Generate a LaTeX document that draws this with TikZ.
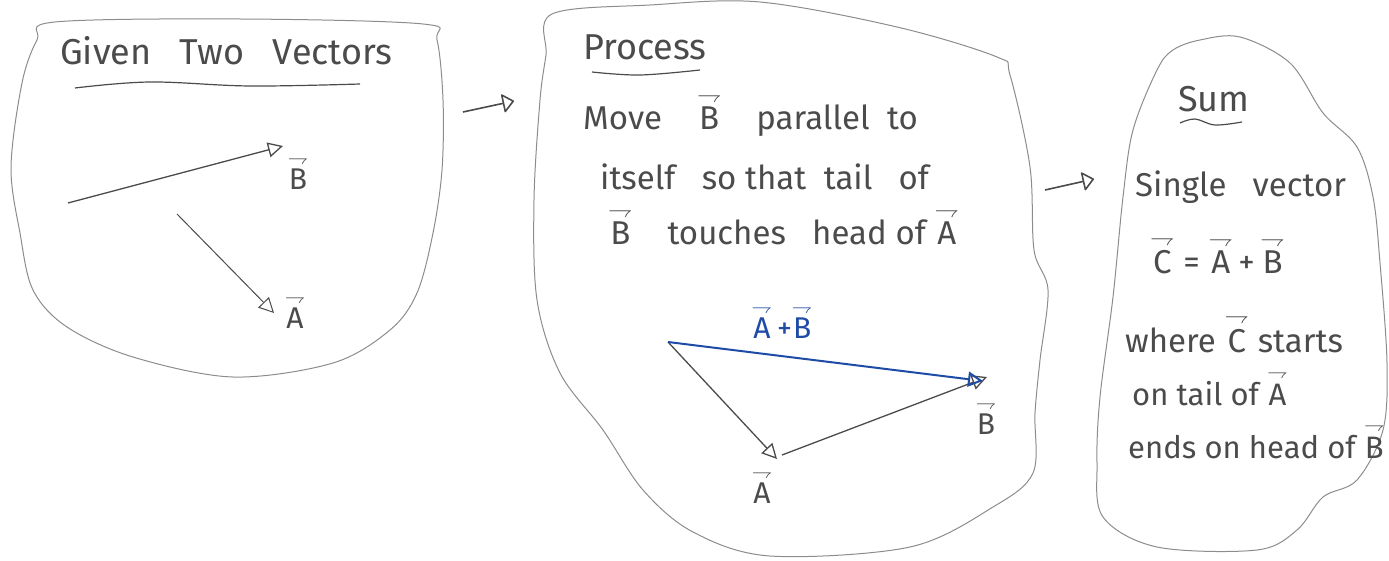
\documentclass[tikz,border=0pt]{standalone}
\usepackage{fontspec}
\usepackage{amsmath}
\setmainfont{Fira Sans}
\usetikzlibrary{arrows.meta}
\newcommand{\vv}[1]{\ensuremath{\overset{\scriptstyle\rightharpoondown}{\text{#1}}}}
\definecolor{ink}{RGB}{75,75,75}
\definecolor{blueink}{RGB}{30,75,165}
\tikzset{
  blob/.style={draw=black!45, line width=1pt},
  hand/.style={text=ink, inner sep=0pt, font=\fontsize{33}{38}\selectfont},
  handsm/.style={text=ink, inner sep=0pt, font=\fontsize{31}{36}\selectfont},
  headline/.style={text=ink, inner sep=0pt, font=\fontsize{36}{40}\selectfont},
  uline/.style={draw=ink, line width=1.2pt},
  vecline/.style={draw=ink, line width=1.3pt, -{Triangle[open, length=15pt, width=15pt]}},
  sumline/.style={draw=blueink, line width=2pt, -{Triangle[open, length=15pt, width=15pt]}},
  flow/.style={draw=ink, line width=1.6pt, -{Triangle[open, round, length=12pt, width=20pt]}},
  lab/.style={text=ink, inner sep=0pt, font=\fontsize{30}{34}\selectfont}
}
\begin{document}
\begin{tikzpicture}[x=1pt,y=-1pt]
\useasboundingbox (0,0) rectangle (1389,561);
% blobs
\draw[blob] plot[smooth cycle, tension=0.55] coordinates {
 (55,22) (240,19) (423,24) (437,40) (443,100) (442,170) (433,233) (417,293) (390,330)
 (333,363) (233,377) (133,357) (67,327) (33,290) (20,233) (11,167) (22,83) (37,40)};
\draw[blob] plot[smooth cycle, tension=0.55] coordinates {
 (552,14) (650,5) (760,2) (897,27) (997,57) (1010,75) (1030,167) (1034,250) (1048,290)
 (1040,360) (1035,413) (1033,473) (993,507) (910,547) (770,556) (693,532) (643,490)
 (603,430) (560,373) (537,300) (534,200) (540,100) (546,55)};
\draw[blob] plot[smooth cycle, tension=0.55] coordinates {
 (1200,40) (1240,37) (1290,63) (1323,113) (1357,147) (1373,197) (1380,263) (1387,363)
 (1383,430) (1357,480) (1323,497) (1297,530) (1257,550) (1157,547) (1103,517) (1097,463)
 (1100,397) (1113,297) (1123,197) (1133,130) (1157,70) (1173,50)};

% panel 1
\node[headline, anchor=base west] (t1) at (60,65) {Given\ \ \ Two\ \ \ Vectors};
\draw[uline] plot[smooth, tension=0.6] coordinates {(75,88) (150,82) (250,86) (360,84)};
\coordinate (b1s) at (68,203);
\coordinate (b1e) at (283,146);
\coordinate (a1s) at (177,214);
\coordinate (a1e) at (274,313);
\draw[vecline] (b1s) -- (b1e);
\draw[vecline, line width=1pt] (a1s) -- (a1e);
\node[lab] (lb1) at (298,172) {\vv{B}};
\node[lab] (la1) at (295,311) {\vv{A}};

% flow arrow 1
\coordinate (f1s) at (463,112);
\coordinate (f1e) at (514,101);
\draw[flow] (f1s) -- (f1e);

% panel 2
\node[headline, anchor=base west] (t2) at (583,60) {Process};
\draw[uline] plot[smooth, tension=0.6] coordinates {(592,72) (640,75) (700,70)};
\node[hand, anchor=base west] (m1) at (583,130) {Move\ \ \ \ \vv{B}\ \ \ \ parallel\ \ to};
\node[hand, anchor=base west] (m2) at (600,190) {itself\ \ \ so that\ \ tail\ \ \ of};
\node[hand, anchor=base west] (m3) at (608,245) {\vv{B}\ \ \ \ touches\ \ \ head of \vv{A}};
\coordinate (P) at (668,342);
\coordinate (a2e) at (777,459);
\coordinate (b2s) at (782,455);
\coordinate (b2e) at (987,377);
\coordinate (s2e) at (983,381);
\draw[vecline] (P) -- (a2e);
\draw[vecline] (b2s) -- (b2e);
\draw[sumline] (P) -- (s2e);
\node[lab] (la2) at (762,486) {\vv{A}};
\node[lab] (lb2) at (986,417) {\vv{B}};
\node[lab, text=blueink] (ls2) at (782,321) {\vv{A}\,+\vv{B}};

% flow arrow 2
\coordinate (f2s) at (1045,190);
\coordinate (f2e) at (1094,179);
\draw[flow] (f2s) -- (f2e);

% panel 3
\node[headline, anchor=base west] (t3) at (1178,112) {Sum};
\draw[uline] plot[smooth, tension=0.6] coordinates {(1180,123) (1195,119) (1215,125) (1242,122)};
\node[hand, anchor=base west] (s1) at (1135,197) {Single\ \ \ vector};
\node[hand, anchor=base west] (s2) at (1150,274) {\vv{C}\ =\ \vv{A}\,+\,\vv{B}};
\node[hand, anchor=base west] (s3) at (1125,352) {where \vv{C}\ starts};
\node[handsm, anchor=base west] (s4) at (1132,405) {on tail of \vv{A}};
\node[handsm, anchor=base west] (s5) at (1128,458) {ends on head of \vv{B}};
\end{tikzpicture}
\end{document}
